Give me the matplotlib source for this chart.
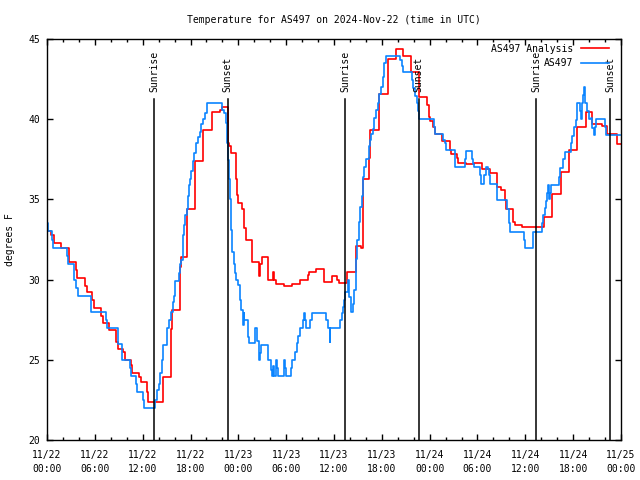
import numpy as np
import matplotlib
matplotlib.use('Agg')
import matplotlib.pyplot as plt
from matplotlib import transforms
from matplotlib.ticker import MultipleLocator

# hours since 2024-11-22 00:00 UTC
ana_hours = [0.0, 0.5, 0.9, 1.75, 2.75, 3.7, 3.8, 4.75, 4.97, 5.7, 5.9, 6.76, 6.97,
             7.76, 8.6, 8.7, 8.93, 9.56, 9.77, 10.5, 10.7, 11.6, 11.85, 12.56, 12.7,
             14.6, 15.6, 15.7, 16.65, 16.75, 17.5, 18.6, 19.58, 20.66, 21.75, 22.0,
             22.66, 22.8, 23.1, 23.67, 23.8, 23.9, 24.5, 24.67, 25.0, 25.7, 26.55,
             26.7, 26.96, 27.7, 28.35, 28.5, 28.76, 29.7, 30.7, 31.68, 32.7, 32.85,
             33.77, 34.7, 35.7, 36.4, 36.6, 37.6, 38.7, 39.4, 39.7, 40.45, 40.5,
             41.7, 42.74, 43.8, 44.6, 45.6, 46.6, 47.67, 47.9, 48.0, 48.4, 48.7,
             49.55, 50.55, 50.7, 51.4, 51.6, 52.55, 53.6, 54.56, 55.56, 56.5, 57.0,
             57.47, 57.6, 58.5, 58.7, 59.57, 60.6, 62.4, 63.3, 64.45, 65.5, 66.5,
             67.6, 68.4, 69.6, 70.3, 71.46, 72.0]
ana_temps = [33.0, 32.8, 32.3, 32.0, 31.1, 30.6, 30.1, 29.6, 29.25, 28.7, 28.2, 27.7, 27.3,
             26.85, 26.4, 26.1, 25.7, 25.5, 25.0, 24.7, 24.2, 23.9, 23.6, 23.0, 22.4,
             23.9, 26.9, 28.1, 30.8, 31.4, 34.4, 37.4, 39.3, 40.45, 40.6, 40.73,
             38.5, 38.3, 37.9, 36.3, 35.3, 34.75, 34.4, 33.2, 32.5, 31.1, 30.2,
             31.0, 31.4, 30.0, 30.5, 30.0, 29.7, 29.6, 29.7, 30.0, 30.3, 30.45,
             30.64, 29.85, 30.2, 29.95, 29.8, 30.5, 32.1, 32.0, 36.25, 37.55, 39.3,
             41.57, 43.73, 44.4, 43.95, 42.96, 41.4, 40.9, 40.16, 39.9, 39.5, 39.08,
             38.66, 38.1, 37.83, 37.6, 37.3, 37.2, 37.3, 36.9, 36.65, 35.8, 35.6,
             34.96, 34.4, 33.6, 33.4, 33.26, 33.3, 33.93, 35.34, 36.7, 38.08, 39.5,
             40.47, 39.7, 39.58, 39.08, 38.45, 38.45]

obs_hours = [0.0, 0.08, 0.58, 0.8, 2.55, 2.6, 3.4, 3.63, 3.9, 5.5, 7.35, 7.47, 8.93,
             9.43, 9.47, 10.45, 10.5, 11.2, 11.3, 12.06, 12.2, 13.6, 13.8, 14.0, 14.2,
             14.4, 14.57, 15.0, 15.07, 15.28, 15.5, 15.8, 15.9, 16.0, 16.57, 16.65,
             16.78, 17.0, 17.1, 17.2, 17.35, 17.5, 17.65, 17.8, 17.95, 18.1, 18.3,
             18.5, 18.75, 18.95, 19.15, 19.35, 19.57, 19.8, 20.07, 22.0, 22.2, 22.4,
             22.6, 22.7, 22.83, 23.0, 23.12, 23.25, 23.4, 23.54, 23.67, 23.96, 24.17,
             24.38, 24.58, 24.67, 24.75, 25.2, 25.3, 26.05, 26.33, 26.55, 26.67, 26.88,
             27.7, 28.13, 28.26, 28.34, 28.47, 28.68, 28.84, 28.97, 29.68, 29.8, 30.0,
             30.55, 30.76, 31.05, 31.35, 31.47, 31.76, 32.1, 32.2, 32.3, 32.5, 32.93,
             33.27, 35.0, 35.23, 35.44, 35.5, 36.8, 36.98, 37.1, 37.2, 37.4, 37.7,
             37.94, 38.15, 38.36, 38.57, 38.7, 38.8, 38.9, 39.1, 39.28, 39.5, 39.6,
             39.8, 40.0, 40.36, 40.5, 40.7, 40.86, 41.07, 41.28, 41.5, 41.7, 41.9,
             42.1, 42.3, 42.5, 44.3, 44.5, 44.6, 45.8, 45.96, 46.2, 46.37, 46.58,
             46.7, 48.5, 48.7, 49.7, 49.9, 50.05, 51.2, 52.4, 52.6, 53.3, 53.45, 53.6,
             54.3, 54.4, 54.85, 55.06, 55.26, 55.47, 55.6, 56.4, 56.5, 57.7, 57.9,
             57.98, 58.1, 59.86, 59.94, 60.9, 60.98, 62.07, 62.24, 62.5, 62.65, 62.77,
             62.9, 63.0, 63.1, 63.27, 64.24, 64.32, 64.78, 64.95, 65.7, 65.9, 66.1,
             66.3, 66.53, 66.83, 66.95, 67.08, 67.16, 67.28, 67.37, 67.45, 67.78,
             68.0, 68.2, 68.4, 68.6, 68.75, 68.9, 70.0, 70.08, 71.9]
obs_temps = [33.5, 33.0, 32.5, 31.95, 31.5, 30.97, 30.0, 29.5, 29.0, 27.96, 27.5, 26.98, 25.96,
             25.5, 24.97, 24.5, 23.97, 23.5, 22.97, 22.5, 21.97, 22.5, 23.1, 23.5, 24.15,
             25.0, 25.9, 26.4, 27.0, 27.5, 27.96, 28.6, 29.0, 29.93, 30.4, 31.0,
             31.2, 32.0, 32.8, 33.4, 34.0, 34.4, 35.2, 35.9, 36.3, 36.8, 37.4,
             37.9, 38.5, 38.9, 39.2, 39.7, 40.0, 40.4, 41.0, 40.6, 40.4, 39.74,
             38.5, 37.45, 36.3, 35.0, 33.1, 31.74, 31.0, 30.4, 30.0, 29.66, 28.7,
             28.1, 27.2, 27.94, 27.5, 26.44, 26.03, 26.96, 26.15, 25.0, 25.4, 25.92,
             25.0, 24.36, 24.0, 24.6, 24.0, 25.0, 24.5, 24.0, 25.0, 24.5, 24.0,
             24.5, 25.0, 25.5, 26.03, 26.5, 26.96, 27.5, 27.94, 27.5, 26.96, 27.5,
             27.94, 27.5, 26.96, 26.1, 26.96, 27.5, 27.94, 28.3, 28.7, 29.2, 30.0,
             28.94, 28.0, 28.5, 29.35, 30.4, 31.3, 32.47, 33.6, 34.55, 35.2, 36.4,
             37.0, 37.5, 38.3, 38.7, 39.1, 39.4, 40.05, 40.6, 41.0, 41.6, 42.0,
             42.6, 43.5, 43.95, 43.7, 43.3, 42.96, 42.45, 41.95, 41.45, 41.0, 40.5,
             40.0, 39.5, 39.08, 38.7, 38.5, 38.08, 37.04, 37.5, 38.0, 37.5, 37.2, 37.04,
             36.5, 35.96, 36.5, 37.0, 36.9, 36.5, 35.96, 35.5, 34.96, 34.4, 34.0,
             33.5, 32.95, 32.5, 31.95, 32.5, 32.95, 33.5, 34.0, 34.44, 34.9, 35.38,
             35.9, 35.0, 35.4, 35.9, 36.4, 36.94, 37.5, 37.98, 38.5, 38.95, 39.5,
             39.95, 41.0, 40.5, 40.0, 40.5, 41.0, 41.5, 42.03, 41.0, 40.5,
             40.0, 40.1, 39.45, 39.0, 39.5, 40.0, 39.5, 39.0, 39.0]

sun_hours = [13.43, 22.68, 37.4, 46.63, 61.4, 70.62]
sun_labels = ['Sunrise', 'Sunset', 'Sunrise', 'Sunset', 'Sunrise', 'Sunset']

xtick_hours = list(range(0, 73, 6))
xtick_labels = ['11/22\n00:00', '11/22\n06:00', '11/22\n12:00', '11/22\n18:00',
                '11/23\n00:00', '11/23\n06:00', '11/23\n12:00', '11/23\n18:00',
                '11/24\n00:00', '11/24\n06:00', '11/24\n12:00', '11/24\n18:00',
                '11/25\n00:00']

plt.rcParams['font.family'] = ['DejaVu Sans Mono']
plt.rcParams['font.size'] = 7

fig = plt.figure(figsize=(6.4, 4.8), dpi=100)
ax = fig.add_axes([47/640, 1 - 440/480, 574/640, 401/480])

ax.step(ana_hours, ana_temps, where='post', color='#ff0000', lw=1.2, label='AS497 Analysis')
ax.step(obs_hours, obs_temps, where='post', color='#0a84ff', lw=1.2, label='AS497')

trans = transforms.blended_transform_factory(ax.transData, ax.transAxes)
for t, lab in zip(sun_hours, sun_labels):
    ax.axvline(t, ymin=0, ymax=0.85, color='black', lw=1.1)
    ax.text(t, 0.868, lab, transform=trans, rotation=90, ha='center', va='bottom', fontsize=7)

ax.set_xlim(0, 72)
ax.set_ylim(20, 45)
ax.set_xticks(xtick_hours)
ax.set_xticklabels(xtick_labels, linespacing=1.5)
ax.xaxis.set_minor_locator(MultipleLocator(2))
ax.set_yticks([20, 25, 30, 35, 40, 45])
ax.tick_params(which='both', direction='in', top=True, right=True, width=1)
ax.tick_params(which='major', length=4.5)
ax.tick_params(which='minor', length=2.5)
ax.tick_params(axis='x', pad=7)
ax.tick_params(axis='y', pad=5)
for sp in ax.spines.values():
    sp.set_linewidth(1)

ax.set_title('Temperature for AS497 on 2024-Nov-22 (time in UTC)', fontsize=7, pad=11.5)
ax.set_ylabel('degrees F')
ax.yaxis.set_label_coords(-0.055, 0.5)

ax.legend(loc='upper right', frameon=False, markerfirst=False, alignment='right',
          bbox_to_anchor=(1 - 8/574, 1 - 1/401), borderaxespad=0,
          handlelength=2.9, handletextpad=0.8, labelspacing=0.45, fontsize=7)

fig.savefig('out.png', dpi=100)
